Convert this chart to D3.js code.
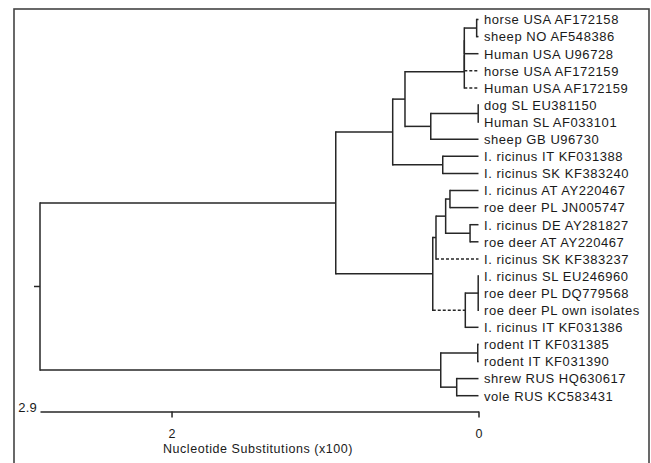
<!DOCTYPE html>
<html>
<head>
<meta charset="utf-8">
<script src="https://cdn.jsdelivr.net/npm/d3@7"></script>
<style>
  body { margin: 0; background: #fff; }
  text { font-family: "Liberation Sans", Arial, sans-serif; fill: #1a1a1a; }
</style>
</head>
<body>
<svg id="chart" width="651" height="463"></svg>
<script>
// leaves, top to bottom
var leafNames = [
  "horse USA AF172158", "sheep NO AF548386", "Human USA U96728",
  "horse USA AF172159", "Human USA AF172159", "dog SL EU381150",
  "Human SL AF033101", "sheep GB U96730", "I. ricinus IT KF031388",
  "I. ricinus SK KF383240", "I. ricinus AT AY220467", "roe deer PL JN005747",
  "I. ricinus DE AY281827", "roe deer AT AY220467", "I. ricinus SK KF383237",
  "I. ricinus SL EU246960", "roe deer PL DQ779568", "roe deer PL own isolates",
  "I. ricinus IT KF031386", "rodent IT KF031385", "rodent IT KF031390",
  "shrew RUS HQ630617", "vole RUS KC583431"
];

// internal nodes: children are leaf indexes or other node names
var nodeNames = ["n01", "n012", "n0123", "A", "n56", "B", "C", "E", "D",
  "J", "K", "I", "H", "L", "L2", "G", "F", "n1920", "n2122", "M", "root"];
var nodeChildren = [[0, 1], ["n01", 2], ["n012", 3], ["n0123", 4], [5, 6], ["n56", 7],
  ["A", "B"], [8, 9], ["C", "E"], [10, 11], [12, 13], ["J", "K"], ["I", 14],
  [15, 16, 17], ["L", 18], ["H", "L2"], ["D", "G"], [19, 20], [21, 22],
  ["n1920", "n2122"], ["F", "M"]];
// node heights in nucleotide substitutions (x100)
var nodeHeights = [0.012, 0.0925, 0.0925, 0.0925, 0.002, 0.311, 0.479, 0.233, 0.559,
  0.186, 0.055, 0.214, 0.277, 0.002, 0.086, 0.298, 0.930, 0.005, 0.142, 0.246, 2.857];

// branches drawn dashed (negative lengths)
var dashedBranches = ["horse USA AF172159", "Human USA AF172159", "I. ricinus SK KF383237", "L2"];

var axisTicks = [2, 0];
var axisTitle = "Nucleotide Substitutions (x100)";

var svg = d3.select("#chart");

// frame
svg.append("rect")
  .attr("x", 14).attr("y", 9)
  .attr("width", 635).attr("height", 480)
  .attr("fill", "none")
  .attr("stroke", "#444")
  .attr("stroke-width", 1.6);

function build(ref) {
  if (typeof ref === "number") return {name: leafNames[ref], height: 0, leaf: ref};
  var i = nodeNames.indexOf(ref);
  return {name: ref, height: nodeHeights[i], children: nodeChildren[i].map(build)};
}

var root = d3.hierarchy(build("root"));

var x = d3.scaleLinear().domain([0, root.data.height]).range([478.5, 40]);
var y = d3.scaleLinear().domain([0, leafNames.length - 1]).range([19.5, 395.7]);

root.eachAfter(function(n) {
  n.px = x(n.data.height);
  if (!n.children) n.py = y(n.data.leaf);
  else n.py = (n.children[0].py + n.children[n.children.length - 1].py) / 2;
});

var g = svg.append("g")
  .attr("stroke", "#262626")
  .attr("stroke-width", 1.5)
  .attr("fill", "none");

// vertical connectors
g.selectAll(".vline")
  .data(root.descendants().filter(function(d) { return d.children; }))
  .enter().append("line")
  .attr("class", "vline")
  .attr("x1", function(d) { return d.px; })
  .attr("x2", function(d) { return d.px; })
  .attr("y1", function(d) { return d.children[0].py - 0.75; })
  .attr("y2", function(d) { return d.children[d.children.length - 1].py + 0.75; });

// horizontal branches
g.selectAll(".hline")
  .data(root.descendants().filter(function(d) { return d.parent; }))
  .enter().append("line")
  .attr("class", "hline")
  .attr("x1", function(d) { return d.parent.px; })
  .attr("x2", function(d) { return d.px; })
  .attr("y1", function(d) { return d.py; })
  .attr("y2", function(d) { return d.py; })
  .attr("stroke-dasharray", function(d) {
    return dashedBranches.indexOf(d.data.name) >= 0 ? "3,2" : null;
  });

// root stub
g.append("line")
  .attr("x1", root.px - 6).attr("x2", root.px)
  .attr("y1", root.py).attr("y2", root.py);

// leaf labels
svg.selectAll(".leaf")
  .data(root.leaves())
  .enter().append("text")
  .attr("class", "leaf")
  .attr("x", x(0) + 5.5)
  .attr("y", function(d) { return d.py + 4.8; })
  .attr("font-size", "13px")
  .attr("letter-spacing", "0.55px")
  .text(function(d) { return d.data.name; });

// scale bar
var axisY = 411.5;
var axis = d3.axisBottom(x)
  .tickValues(axisTicks)
  .tickFormat(d3.format("d"))
  .tickSize(6)
  .tickSizeOuter(0)
  .tickPadding(12);

var ax = svg.append("g")
  .attr("transform", "translate(0," + axisY + ")")
  .call(axis);
ax.select(".domain").attr("stroke", "#262626").attr("stroke-width", 1.5);
ax.selectAll(".tick line").attr("stroke", "#262626").attr("stroke-width", 1.5);
ax.selectAll(".tick text")
  .attr("font-size", "12.5px")
  .attr("font-family", "Liberation Sans, Arial, sans-serif")
  .attr("fill", "#1a1a1a");

svg.append("text")
  .attr("x", x(root.data.height) - 3)
  .attr("y", axisY)
  .attr("text-anchor", "end")
  .attr("font-size", "13px")
  .attr("letter-spacing", "0.2px")
  .text(d3.format(".1f")(root.data.height));

svg.append("text")
  .attr("x", 258)
  .attr("y", 453)
  .attr("text-anchor", "middle")
  .attr("font-size", "12.5px")
  .attr("letter-spacing", "0.55px")
  .text(axisTitle);
</script>
</body>
</html>
